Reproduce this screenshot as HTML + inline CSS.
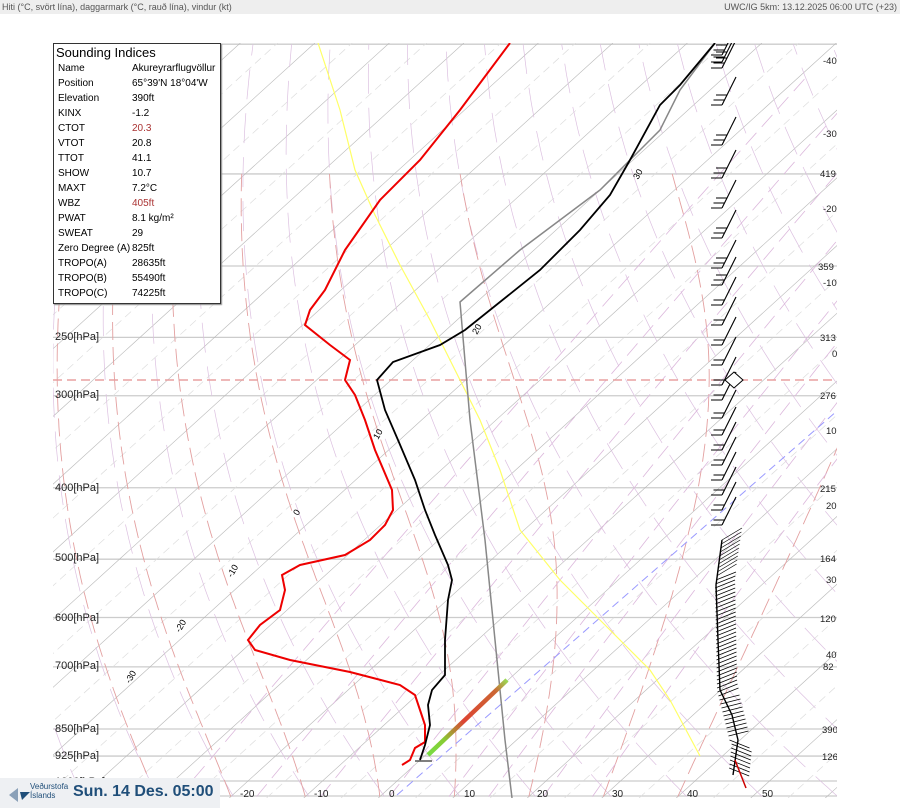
<!DOCTYPE html>
<html><head><meta charset="utf-8"><style>
body{margin:0;background:#fff;width:900px;height:808px;overflow:hidden;font-family:"Liberation Sans",sans-serif}
#hdr{position:absolute;left:0;top:0;width:900px;height:14px;background:#eee;font-size:9px;color:#555;line-height:14px}
#box{position:absolute;left:53px;top:43px;width:166px;height:259px;background:#fff;border:1px solid #333;box-shadow:1px 1px 1px #888;font-size:10px;color:#000}
#box .t{font-size:13px;margin:1px 0 0 2px;height:16px}
#box .r{height:15px;line-height:15px;padding-left:4px}
#box .r span{position:absolute;left:78px}
#logo{position:absolute;left:0;top:778px;width:220px;height:30px;background:#eef0f3;white-space:nowrap}
</style></head><body>
<div id="hdr"><span style="position:absolute;left:2px">Hiti (°C, svört lína), daggarmark (°C, rauð lína), vindur (kt)</span><span style="position:absolute;right:3px">UWC/IG 5km: 13.12.2025 06:00 UTC (+23)</span></div>
<svg id="s" width="900" height="808" style="position:absolute;left:0;top:0"></svg>
<div id="box"><div class="t">Sounding Indices</div>
<div class="r">Name<span>Akureyrarflugvöllur</span></div>
<div class="r">Position<span>65°39'N 18°04'W</span></div>
<div class="r">Elevation<span>390ft</span></div>
<div class="r">KINX<span>-1.2</span></div>
<div class="r">CTOT<span style="color:#a33">20.3</span></div>
<div class="r">VTOT<span>20.8</span></div>
<div class="r">TTOT<span>41.1</span></div>
<div class="r">SHOW<span>10.7</span></div>
<div class="r">MAXT<span>7.2°C</span></div>
<div class="r">WBZ<span style="color:#a33">405ft</span></div>
<div class="r">PWAT<span>8.1 kg/m²</span></div>
<div class="r">SWEAT<span>29</span></div>
<div class="r">Zero Degree (A)<span>825ft</span></div>
<div class="r">TROPO(A)<span>28635ft</span></div>
<div class="r">TROPO(B)<span>55490ft</span></div>
<div class="r">TROPO(C)<span>74225ft</span></div>
</div>
<div id="logo"><svg width="30" height="30" style="position:absolute;left:6px;top:0"><polygon points="3,17 12,10 12,24" fill="#8aa0b8"/><polygon points="14,14 24,14 16,22" fill="#1f4e79"/></svg>
<div style="position:absolute;left:30px;top:4px;font-size:8px;color:#1f4e79;line-height:9px">Veðurstofa<br>Íslands</div>
<div style="position:absolute;left:73px;top:5px;font-size:16px;font-weight:bold;color:#1f4e79">Sun. 14 Des. 05:00</div></div>
<script>
const s=document.getElementById('s');const NS='http://www.w3.org/2000/svg';
function el(t,a,txt){const e=document.createElementNS(NS,t);for(const k in a)e.setAttribute(k,a[k]);if(txt!==undefined)e.textContent=txt;s.appendChild(e);return e;}
const X0=53,X1=837,Y0=43,Y1=798,S=1.1;
const yP=p=>781-320*Math.log(1000/p);
const xT=(T,y)=>397+7.45*T+S*(781-y);
const cp=el('clipPath',{id:'c'});const r=document.createElementNS(NS,'rect');
r.setAttribute('x',X0);r.setAttribute('y',Y0);r.setAttribute('width',X1-X0);r.setAttribute('height',Y1-Y0);cp.appendChild(r);
const g=el('g',{'clip-path':'url(#c)'});
function add(t,a){const e=document.createElementNS(NS,t);for(const k in a)e.setAttribute(k,a[k]);g.appendChild(e);return e;}
function path(pts,a){a.d='M'+pts.map(p=>p[0].toFixed(1)+','+p[1].toFixed(1)).join('L');a.fill='none';return add('path',a);}
[100,150,200,250,300,400,500,600,700,850,925,1000].forEach(p=>add('line',{x1:X0,x2:X1,y1:yP(p),y2:yP(p),stroke:'#ccc','stroke-width':1.3}));
add('line',{x1:X0,x2:X1,y1:796,y2:796,stroke:'#ccc','stroke-width':1.3});
for(let T=-130;T<=60;T+=10){add('line',{x1:xT(T,Y1),y1:Y1,x2:xT(T,Y0),y2:Y0,stroke:'#b8b8b8','stroke-width':0.6});
 add('line',{x1:xT(T+5,Y1),y1:Y1,x2:xT(T+5,Y0),y2:Y0,stroke:'#ddd','stroke-width':0.7,'stroke-dasharray':'8,5'});}
for(let th=230;th<=480;th+=10){const pts=[];for(let p=1050;p>=95;p-=10){const T=th*Math.pow(p/1000,0.2857)-273.15;pts.push([xT(T,yP(p)),yP(p)]);}
 path(pts,{stroke:'#dcc0e0','stroke-width':0.7,'stroke-dasharray':'30,14'});}
function es(T){return 6.112*Math.exp(17.67*T/(T+243.5));}
for(let T0=-30;T0<=40;T0+=10){let T=T0,pts=[];for(let p=1050;p>=150;p-=5){pts.push([xT(T,yP(p)),yP(p)]);const Tk=T+273.15,e=es(T),w=0.622*e/(p-e);
 const G=(287*Tk+2.5e6*w)/(1004+2.5e6*2.5e6*w*0.622/(287*Tk*Tk))/p;T-=G*5;}
 path(pts,{stroke:'#e3a0a0','stroke-width':0.9,'stroke-dasharray':'18,7'});}
[0.4,1,2,4,7,10,16,24].forEach(w=>{const pts=[];for(let p=1050;p>=100;p-=20){const e=w/1000*p/(0.622+w/1000);const l=Math.log(e/6.112);const T=243.5*l/(17.67-l);pts.push([xT(T,yP(p)),yP(p)]);}
 path(pts,{stroke:'#dcb8dc','stroke-width':0.8,'stroke-dasharray':'16,8'});});
add('line',{x1:397,y1:795,x2:893,y2:362,stroke:'#99f','stroke-width':1,'stroke-dasharray':'8,5'});
add('line',{x1:X0,x2:X1,y1:380,y2:380,stroke:'#e8a0a0','stroke-width':1.5,'stroke-dasharray':'9,5'});
path([[318,43],[340,110],[355,170],[375,215],[400,265],[430,320],[460,380],[480,420],[500,470],[520,530],[560,580],[600,620],[630,650],[650,670],[670,700],[700,756]],{stroke:'#ffff66','stroke-width':1.2});
path([[512,798],[505,740],[495,640],[485,540],[470,420],[460,302],[520,250],[600,190],[660,130],[680,90],[715,43]],{stroke:'#888','stroke-width':1.5});
const df=document.createElementNS(NS,'defs');df.innerHTML='<linearGradient id="gr" x1="428" y1="755" x2="507" y2="680" gradientUnits="userSpaceOnUse"><stop offset="0" stop-color="#7d4"/><stop offset="0.2" stop-color="#8c3"/><stop offset="0.45" stop-color="#d43"/><stop offset="0.85" stop-color="#c63"/><stop offset="1" stop-color="#9d5"/></linearGradient>';s.appendChild(df);
add('line',{x1:428,y1:755,x2:507,y2:680,stroke:'url(#gr)','stroke-width':4.5});
path([[402,765],[410,760],[415,748],[425,742],[425,725],[420,710],[415,695],[400,685],[350,672],[290,660],[255,650],[248,640],[260,625],[280,610],[285,590],[282,575],[300,565],[345,555],[370,540],[385,525],[393,510],[392,490],[375,450],[365,420],[355,395],[345,380],[350,360],[330,345],[305,325],[310,310],[325,290],[345,250],[380,200],[420,160],[460,110],[510,43]],{stroke:'#e00','stroke-width':2});
path([[420,760],[425,745],[430,725],[428,705],[432,690],[445,675],[445,640],[448,600],[452,580],[448,565],[435,535],[425,510],[415,480],[398,440],[385,410],[377,380],[393,362],[440,345],[465,330],[500,302],[540,270],[580,230],[610,195],[630,160],[660,105],[680,85],[715,43]],{stroke:'#000','stroke-width':1.8});
add('line',{x1:415,y1:761,x2:432,y2:761,stroke:'#333','stroke-width':1.2});
// barbs upper
const ys=[55,62,68,105,145,178,208,238,268,285,305,325,345,365,385,400,418,435,450,465,480,495,510,525];
ys.forEach((y,i)=>{const bx=722;add('line',{x1:bx,y1:y,x2:bx+14,y2:y-28,stroke:'#000','stroke-width':1.1});
 const n=y<300?3:2;for(let k=0;k<n;k++){add('line',{x1:bx+k*2.5,y1:y-k*5,x2:bx+k*2.5-11,y2:y-k*5,stroke:'#000','stroke-width':1});}});
// lower barbs: staffs fanning
for(let y=540;y<=770;y+=4){let bx;if(y<585)bx=722-(y-540)*0.15;else if(y<690)bx=715+(y-585)*0.02;else bx=717+(y-690)*0.25;if(y>740)bx=732-(y-740)*0.1;
 let dy=y<580?-12:(y<700?-8:(y<740?-5:8));add('line',{x1:bx,y1:y,x2:bx+20,y2:y+dy,stroke:'#000','stroke-width':0.7});}
path([[722,540],[716,585],[718,640],[720,690],[732,715],[738,740],[733,775]],{stroke:'#000','stroke-width':1.4});
add('line',{x1:735,y1:760,x2:746,y2:788,stroke:'#c00','stroke-width':1.5});
add('polygon',{points:'734,372 743,380 734,388 725,380',fill:'#fff',stroke:'#000'});
[[477,335,'20'],[638,180,'30'],[378,440,'10'],[298,516,'0'],[232,578,'-10'],[180,633,'-20'],[130,684,'-30']].forEach(a=>add('text',{x:a[0],y:a[1],'font-size':9,transform:`rotate(-60 ${a[0]} ${a[1]})`}).textContent=a[2]);
[[250,340],[300,398],[400,491],[500,561],[600,621],[700,669],[850,732],[925,759],[1000,785]].forEach(a=>el('text',{x:55,y:a[1],'font-size':11,fill:'#222'},a[0]+'[hPa]'));
[[-20,248],[-10,322],[0,397],[10,472],[20,545],[30,620],[40,695],[50,770]].forEach(a=>el('text',{x:a[1]-8,y:797,'font-size':10,fill:'#222'},a[0]));
el('rect',{x:837,y:14,width:63,height:794,fill:'#fff'});
[[823,64,'-40'],[823,137,'-30'],[820,177,'419'],[823,212,'-20'],[818,270,'359'],[823,286,'-10'],[820,341,'313'],[832,357,'0'],[820,399,'276'],[826,434,'10'],[820,492,'215'],[826,509,'20'],[820,562,'164'],[826,583,'30'],[820,622,'120'],[826,658,'40'],[823,670,'82'],[822,733,'390'],[822,760,'126']].forEach(a=>el('text',{x:a[0],y:a[1],'font-size':9.5,fill:'#222','clip-path':'url(#c)'},a[2]));
</script>
</body></html>
